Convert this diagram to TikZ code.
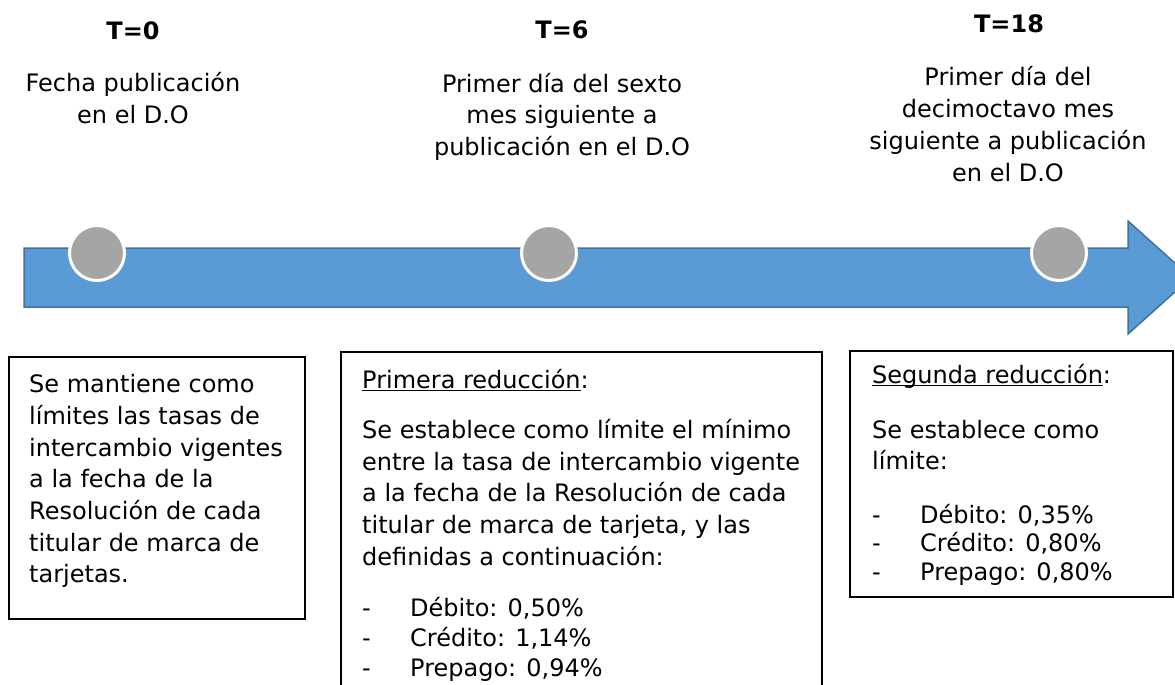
\documentclass[tikz,border=0pt]{standalone}
\usepackage{fontspec}
\setmainfont{DejaVu Sans}
\usepackage{xcolor}
\usepackage{tikz}
\usetikzlibrary{positioning, calc}
\definecolor{arrowblue}{HTML}{5B9BD5}
\definecolor{arrowedge}{HTML}{41719C}
\definecolor{dotgray}{HTML}{A5A5A5}
\newcommand{\subrayado}[1]{\leavevmode\setbox0\hbox{#1}\rlap{\rule[-2.8pt]{\wd0}{1.3pt}}\box0}
\newcommand{\guion}{\makebox[48pt][l]{-}}
\tikzset{
  hito/.style={circle, fill=dotgray, draw=white, line width=3pt, minimum size=55pt, inner sep=0pt},
  titulo/.style={font={\fontsize{24}{31.7}\selectfont\bfseries}, anchor=base, inner sep=0pt},
  fecha/.style={font={\fontsize{24}{31.7}\selectfont}, align=center, anchor=base, inner sep=0pt},
  texto/.style={font={\fontsize{24}{31.7}\selectfont}, align=left, anchor=base west, inner sep=0pt},
  lista/.style={font={\fontsize{24}{29.7}\selectfont}, align=left, anchor=base west, inner sep=0pt},
  recuadro/.style={draw=black, line width=1.5pt}
}

\begin{document}
\begin{tikzpicture}[x=1pt, y=-1pt]
    \useasboundingbox (0,0) rectangle (1175,685);
    \clip (0,0) rectangle (1175,685);
    % Timeline arrow
    \draw[fill=arrowblue, draw=arrowedge, line width=1.5pt]
      (24,248) -- (1128,248) -- (1128,221) -- (1191,277.5) -- (1128,334) -- (1128,307) -- (24,307) -- cycle;
    \node[hito] (hito0) at (97,253) {};
    \node[hito] (hito6) at (549,253) {};
    \node[hito] (hito18) at (1059,253) {};

    % Milestones (anchored on the last line)
    \node[titulo] (t0) at (133,40) {T=0};
    \node[titulo] (t6) at (562,39) {T=6};
    \node[titulo] (t18) at (1009,33) {T=18};
    \node[fecha] (f0) at (133,123.5) {Fecha publicación\\en el D.O};
    \node[fecha] (f6) at (562,155.4) {Primer día del sexto\\mes siguiente a\\publicación en el D.O};
    \node[fecha] (f18) at (1008,181) {Primer día del\\decimoctavo mes\\siguiente a publicación\\en el D.O};

    % Boxes
    \draw[recuadro] (9,357) rectangle (305,619);
    \draw[recuadro] (341,352) rectangle (822,700);
    \draw[recuadro] (850,351) rectangle (1173,597);

    \node[texto] (b0) at (29,582.9) {Se mantiene como\\límites las tasas de\\intercambio vigentes\\a la fecha de la\\Resolución de cada\\titular de marca de\\tarjetas.};

    \node[texto] (h6) at (362,388) {\subrayado{Primera reducción}:};
    \node[texto] (b6) at (362,565.1) {Se establece como límite el mínimo\\entre la tasa de intercambio vigente\\a la fecha de la Resolución de cada\\titular de marca de tarjeta, y las\\definidas a continuación:};
    \node[lista] (l6) at (362,676.1) {\guion Débito: 0,50\%\\\guion Crédito: 1,14\%\\\guion Prepago: 0,94\%};

    \node[texto] (h18) at (872,383) {\subrayado{Segunda reducción}:};
    \node[texto] (b18) at (872,469.7) {Se establece como\\límite:};
    \node[lista, font={\fontsize{24}{28.5}\selectfont}] (l18) at (872,580) {\guion Débito: 0,35\%\\\guion Crédito: 0,80\%\\\guion Prepago: 0,80\%};
  \end{tikzpicture}
\end{document}
